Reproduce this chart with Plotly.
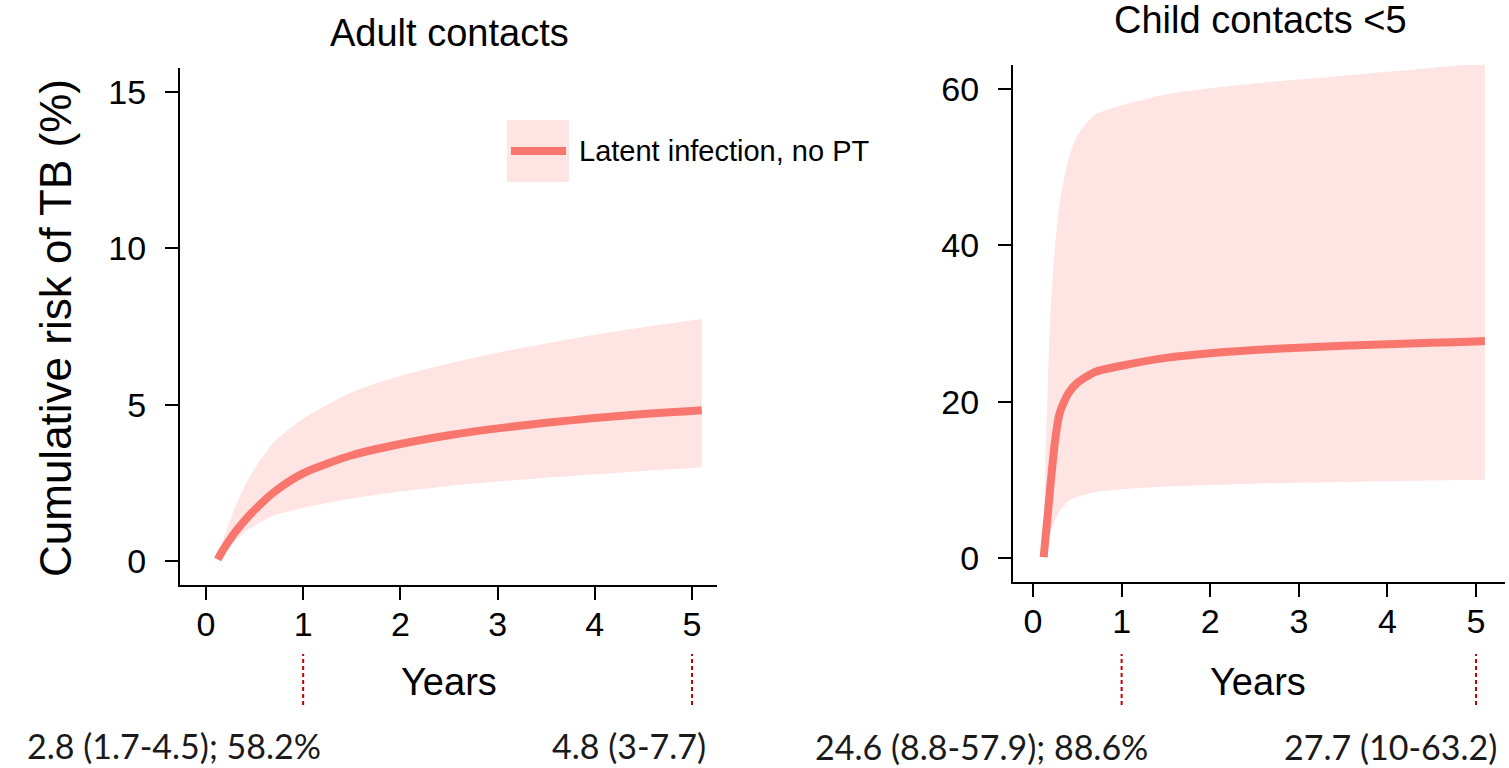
import plotly.graph_objects as go

# ---------------- data ----------------
years = [0.12, 0.14, 0.17, 0.2, 0.25, 0.3, 0.4, 0.5, 0.7, 1.0, 1.5, 2.0, 2.5, 3.0, 3.5, 4.0, 4.5, 5.0, 5.1]

adult_est = [0.05, 0.16, 0.32, 0.47, 0.7, 0.92, 1.3, 1.63, 2.2, 2.8, 3.38, 3.74, 4.02, 4.24, 4.42, 4.57, 4.7, 4.8, 4.82]
adult_hi = [0.1, 0.3, 0.6, 0.88, 1.32, 1.72, 2.4, 2.95, 3.8, 4.55, 5.4, 5.92, 6.32, 6.66, 6.96, 7.24, 7.48, 7.7, 7.74]
adult_lo = [0.02, 0.09, 0.2, 0.31, 0.48, 0.64, 0.93, 1.13, 1.45, 1.7, 2.0, 2.22, 2.4, 2.54, 2.66, 2.77, 2.88, 2.97, 3.0]

child_est = [0.1, 2.5, 6.0, 9.7, 15.1, 18.5, 21.1, 22.4, 23.8, 24.6, 25.6, 26.2, 26.6, 26.9, 27.15, 27.35, 27.53, 27.7, 27.75]
child_hi = [3, 12, 23, 32, 40, 45.3, 51, 54, 56.7, 57.9, 59.3, 60.1, 60.7, 61.2, 61.7, 62.2, 62.7, 63.2, 63.3]
child_lo = [0.1, 0.6, 2.0, 3.3, 4.9, 6.0, 7.3, 7.8, 8.4, 8.8, 9.15, 9.35, 9.5, 9.62, 9.72, 9.81, 9.9, 10.0, 10.0]

panel_titles = ["Adult contacts", "Child contacts <5"]
x_ticks = [0, 1, 2, 3, 4, 5]
adult_y_ticks = [0, 5, 10, 15]
child_y_ticks = [0, 20, 40, 60]
marked_years = [1, 5]
adult_notes = ["2.8 (1.7-4.5); 58.2%", "4.8 (3-7.7)"]
child_notes = ["24.6 (8.8-57.9); 88.6%", "27.7 (10-63.2)"]
legend_label = "Latent infection, no PT"

# ---------------- styling ----------------
W, H = 1509, 768
LINE = "#F8766D"
BAND = "rgba(248,118,109,0.2)"
FONT = "Liberation Sans, Arial, Helvetica, sans-serif"
NOTE_FONT = "Lato, Carlito, Calibri, sans-serif"


def px(x):
    return x / W


def py(y):
    return 1 - y / H


fig = go.Figure()


def add_panel(xa, ya, lo, hi, est):
    fig.add_trace(go.Scatter(x=years, y=lo, xaxis=xa, yaxis=ya, mode="lines",
                             line=dict(width=0, color=BAND, shape="spline", smoothing=0.7),
                             showlegend=False, hoverinfo="skip"))
    fig.add_trace(go.Scatter(x=years, y=hi, xaxis=xa, yaxis=ya, mode="lines", fill="tonexty",
                             fillcolor=BAND,
                             line=dict(width=0, color=BAND, shape="spline", smoothing=0.7),
                             showlegend=False, hoverinfo="skip"))
    fig.add_trace(go.Scatter(x=years, y=est, xaxis=xa, yaxis=ya, mode="lines",
                             line=dict(width=8, color=LINE, shape="spline", smoothing=0.7),
                             name=legend_label, showlegend=False))


add_panel("x", "y", adult_lo, adult_hi, adult_est)
add_panel("x2", "y2", child_lo, child_hi, child_est)

axis_common = dict(showline=True, linecolor="black", linewidth=2, ticks="outside",
                   ticklen=13, tickwidth=2, tickcolor="black", showgrid=False, zeroline=False,
                   tickfont=dict(family=FONT, size=34, color="black"), fixedrange=True)

fig.update_layout(
    width=W, height=H, autosize=False,
    margin=dict(l=0, r=0, t=0, b=0, pad=0),
    paper_bgcolor="white", plot_bgcolor="white",
    showlegend=False,
    xaxis=dict(domain=[px(180), px(717)], range=[-0.267, 5.257], tickvals=x_ticks,
               anchor="y", ticklabelstandoff=-5, **axis_common),
    yaxis=dict(domain=[py(585), py(68)], range=[-0.77, 15.77], tickvals=adult_y_ticks,
               anchor="x", ticklabelstandoff=12, **axis_common),
    xaxis2=dict(domain=[px(1013), px(1505)], range=[-0.226, 5.327], tickvals=x_ticks,
                anchor="y2", ticklabelstandoff=-5, **axis_common),
    yaxis2=dict(domain=[py(582), py(65)], range=[-3.07, 63.07], tickvals=child_y_ticks,
                anchor="x2", ticklabelstandoff=12, **axis_common),
)

annotations = []
# panel titles
annotations.append(dict(text=panel_titles[0], x=px(449), y=py(33), xref="paper", yref="paper",
                        showarrow=False, font=dict(family=FONT, size=38, color="black"),
                        xanchor="center", yanchor="middle"))
annotations.append(dict(text=panel_titles[1], x=px(1260), y=py(20), xref="paper", yref="paper",
                        showarrow=False, font=dict(family=FONT, size=38, color="black"),
                        xanchor="center", yanchor="middle"))
# y axis title
annotations.append(dict(text="Cumulative risk of TB (%)", x=px(56), y=py(328), xref="paper",
                        yref="paper", showarrow=False, textangle=-90,
                        font=dict(family=FONT, size=44, color="black"),
                        xanchor="center", yanchor="middle"))
# x axis titles
for cx in (449, 1258):
    annotations.append(dict(text="Years", x=px(cx), y=py(682), xref="paper", yref="paper",
                            showarrow=False, font=dict(family=FONT, size=38, color="black"),
                            xanchor="center", yanchor="middle"))
# legend text
annotations.append(dict(text=legend_label, x=px(577), y=py(151), xref="paper", yref="paper",
                        showarrow=False, font=dict(family=FONT, size=29, color="black"),
                        xanchor="left", yanchor="middle"))
# bottom notes
note_pos = [(174, 745, adult_notes[0]), (629, 745, adult_notes[1]),
            (981, 746, child_notes[0]), (1390, 746, child_notes[1])]
for cx, cy, t in note_pos:
    annotations.append(dict(text=t, x=px(cx), y=py(cy), xref="paper", yref="paper",
                            showarrow=False, font=dict(family=NOTE_FONT, size=34, color="#1a1a1a"),
                            xanchor="center", yanchor="middle"))
fig.update_layout(annotations=annotations)

shapes = []
# dashed red markers below axes
for xr in ("x", "x2"):
    for yr in marked_years:
        shapes.append(dict(type="line", xref=xr, yref="paper", x0=yr, x1=yr,
                           y0=py(705), y1=py(654),
                           line=dict(color="#C00000", width=2, dash="4px,3px")))
# legend key
shapes.append(dict(type="rect", xref="paper", yref="paper", x0=px(507), x1=px(569),
                   y0=py(182), y1=py(120), fillcolor=BAND, line=dict(width=0)))
shapes.append(dict(type="line", xref="paper", yref="paper", x0=px(511), x1=px(566),
                   y0=py(151), y1=py(151), line=dict(color=LINE, width=8)))
fig.update_layout(shapes=shapes)

fig.write_html("out.html", config={"displayModeBar": False},
               post_script="document.body.style.margin='0';document.body.style.overflow='hidden';")
